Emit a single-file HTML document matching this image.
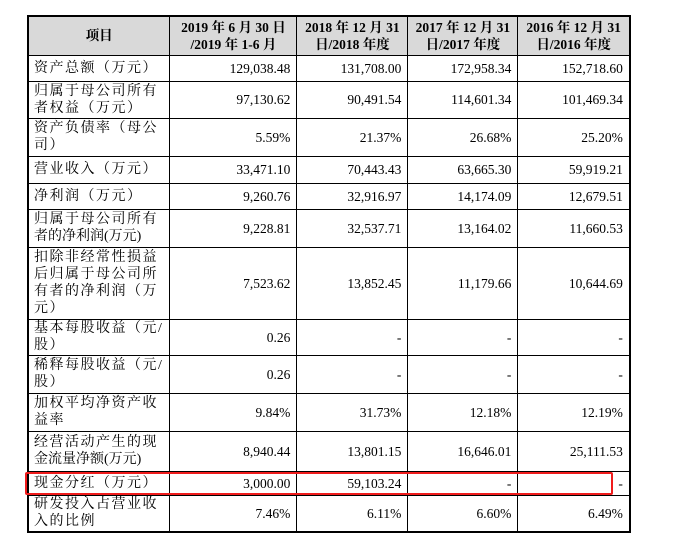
<!DOCTYPE html>
<html><head><meta charset="utf-8"><style>
body{margin:0;width:678px;height:541px;background:#fff;position:relative;overflow:hidden;font-family:"Liberation Serif","Noto Serif CJK SC","Noto Sans CJK SC",serif;color:#000}
table{position:absolute;left:27px;top:15px;border-collapse:collapse;table-layout:fixed;border:2px solid #000}
td,th{border:1px solid #000;font-size:13.5px;line-height:17px;padding:0 6px;overflow:hidden;white-space:nowrap}
th{background:#d9d9d9;font-weight:bold;text-align:center;line-height:17px}
td{text-align:right}
td.l{text-align:left;padding-left:5px;letter-spacing:1.5px;font-size:14px}
.hl{position:absolute;left:25px;top:472px;width:584px;height:19px;border:2.5px solid #f01c1c;border-radius:2px}
</style></head><body>
<table>
<colgroup><col style="width:129px"><col style="width:127px"><col style="width:111px"><col style="width:110px"><col style="width:112px"></colgroup>
<tr style="height:39px"><th>项目</th><th>2019 年 6 月 30 日<br>/2019 年 1-6 月</th><th>2018 年 12 月 31<br>日/2018 年度</th><th>2017 年 12 月 31<br>日/2017 年度</th><th>2016 年 12 月 31<br>日/2016 年度</th></tr>
<tr style="height:26px"><td class="l">资产总额（万元）</td><td>129,038.48</td><td>131,708.00</td><td>172,958.34</td><td>152,718.60</td></tr>
<tr style="height:37px"><td class="l">归属于母公司所有<br>者权益（万元）</td><td>97,130.62</td><td>90,491.54</td><td>114,601.34</td><td>101,469.34</td></tr>
<tr style="height:38px"><td class="l">资产负债率（母公<br>司）</td><td>5.59%</td><td>21.37%</td><td>26.68%</td><td>25.20%</td></tr>
<tr style="height:27px"><td class="l">营业收入（万元）</td><td>33,471.10</td><td>70,443.43</td><td>63,665.30</td><td>59,919.21</td></tr>
<tr style="height:26px"><td class="l">净利润（万元）</td><td>9,260.76</td><td>32,916.97</td><td>14,174.09</td><td>12,679.51</td></tr>
<tr style="height:38px"><td class="l">归属于母公司所有<br><span style="letter-spacing:0">者的净利润(万元)</span></td><td>9,228.81</td><td>32,537.71</td><td>13,164.02</td><td>11,660.53</td></tr>
<tr style="height:72px"><td class="l">扣除非经常性损益<br>后归属于母公司所<br>有者的净利润（万<br>元）</td><td>7,523.62</td><td>13,852.45</td><td>11,179.66</td><td>10,644.69</td></tr>
<tr style="height:36px"><td class="l">基本每股收益（元/<br>股）</td><td>0.26</td><td>-</td><td>-</td><td>-</td></tr>
<tr style="height:38px"><td class="l">稀释每股收益（元/<br>股）</td><td>0.26</td><td>-</td><td>-</td><td>-</td></tr>
<tr style="height:38px"><td class="l">加权平均净资产收<br>益率</td><td>9.84%</td><td>31.73%</td><td>12.18%</td><td>12.19%</td></tr>
<tr style="height:40px"><td class="l">经营活动产生的现<br><span style="letter-spacing:0">金流量净额(万元)</span></td><td>8,940.44</td><td>13,801.15</td><td>16,646.01</td><td>25,111.53</td></tr>
<tr style="height:24px"><td class="l">现金分红（万元）</td><td>3,000.00</td><td>59,103.24</td><td>-</td><td>-</td></tr>
<tr style="height:37px"><td class="l">研发投入占营业收<br>入的比例</td><td>7.46%</td><td>6.11%</td><td>6.60%</td><td>6.49%</td></tr>
</table>
<div class="hl"></div>
</body></html>
